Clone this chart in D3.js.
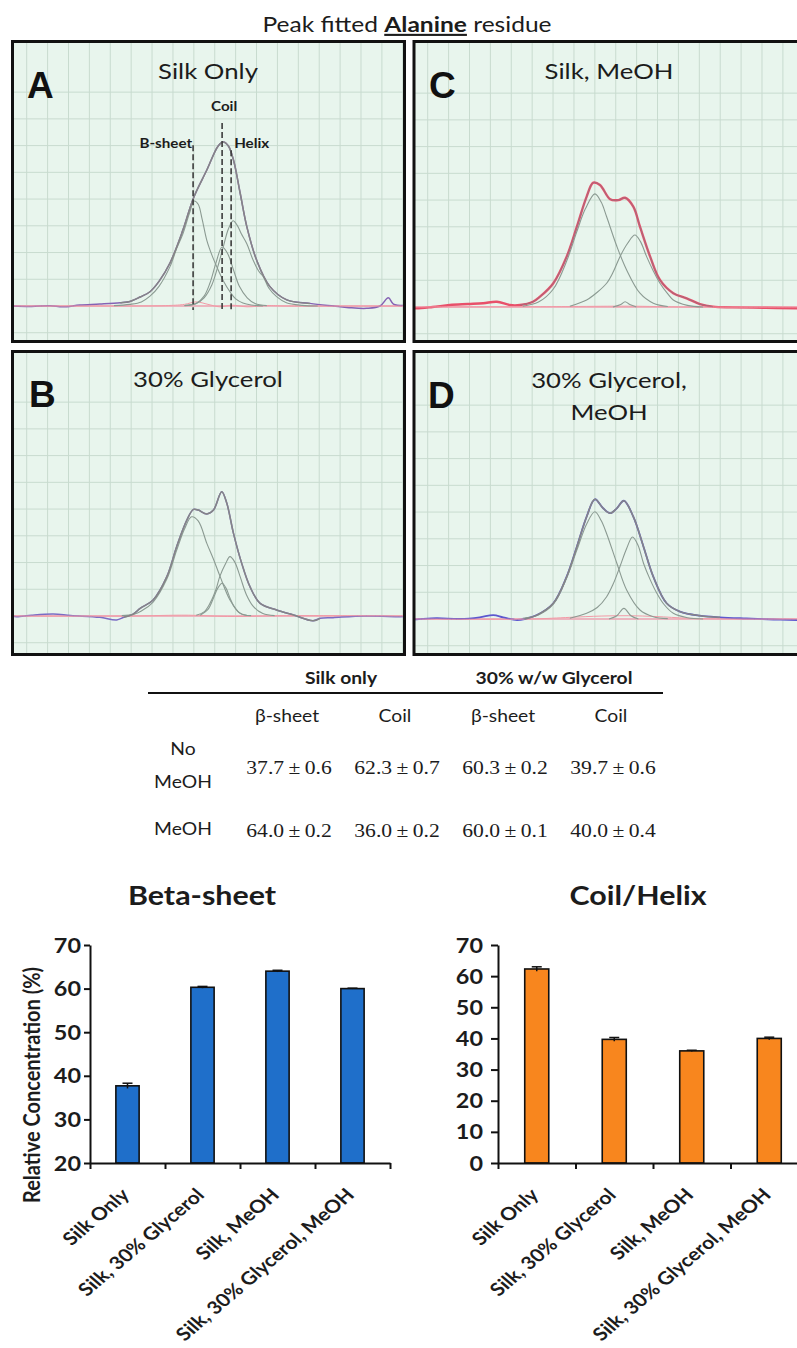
<!DOCTYPE html>
<html><head><meta charset="utf-8">
<script src="https://cdn.jsdelivr.net/npm/d3@7"></script>
<style>body{margin:0;background:#fff}svg{display:block}</style>
</head><body>
<svg id="c" width="797" height="1348"></svg>
<script>
// ---------------- DATA ----------------
// Spectra: [position (a.u., 0-100 across panel), intensity (a.u., A peak = 100)]
const totalA = [[0,0],[5,-0.3],[9.7,0.2],[13,-0.5],[17.3,0.6],[22.4,1.2],[27.6,2.0],[30.1,2.8],[32.7,5.5],[35.2,8.7],[37.5,15],[40.3,26.2],[43.6,46.3],[46.3,65.9],[49.7,82.9],[52.6,97.6],[53.9,100],[55.2,97.6],[56.5,89],[58.2,68.9],[59.9,48.4],[62.4,28],[65.8,11.8],[70.1,3.7],[76,1.6],[82,0],[86,-1],[90.5,-1.4],[93.9,0],[96,5],[97.3,1.2],[100,0.3]];
const betaA = [[26,0.2],[30,1],[33,2.5],[35.2,6],[37.5,12],[40.3,24],[42,35],[43.6,44],[45.2,56],[46.5,64],[47.5,62],[48.5,53],[49.7,40],[51,31],[52.6,22],[54,15],[55.6,8.7],[57,4.5],[58.9,1.8],[61,0.6],[64,0.1]];
const coilA = [[44,0.2],[47,1.5],[49,6],[50.5,14],[52,26],[53.6,36],[55,32],[56.5,22],[58,12],[60,5],[62,1.5],[65,0.2]];
const helixA = [[44,0.3],[47,1.6],[49,5],[51,13],[52.5,24],[54,37],[55.2,47],[56.4,52],[57.5,49],[58.5,44],[59.9,38],[61.5,28],[63,21],[64.1,17.9],[65.5,11],[67.5,5.7],[70,2],[74,0.4],[78,0]];
const residA = [[0,0],[20,0],[40,0.3],[44,1],[47,2.5],[50,1],[53,-0.5],[56,0.5],[60,-0.5],[65,0.3],[70,0],[100,0]];

const totalB = [[0,0],[1.2,-0.4],[5,0.5],[10.5,1.2],[15,0.3],[22.4,-0.8],[26.7,-2.4],[28.5,-0.8],[30.9,1.2],[32.7,4.7],[36,9.8],[39.5,24],[42,42.3],[44.6,58.5],[46.3,65],[47.5,64.6],[49.7,62.2],[51.4,64.6],[53.5,75.8],[54.8,68.7],[56.5,50.4],[58.6,32.1],[60.7,17.9],[63.3,7.7],[67.5,3.7],[71.8,0.6],[76.8,-2.9],[78.6,-1.4],[81.9,-1],[90,0],[99,-0.4],[100,-0.3]];
const betaB = [[28,0.2],[31,1],[33,3],[36,8.5],[39.5,22.5],[42,40],[44,53],[45.8,60.5],[47.5,58],[49.7,44.3],[51.5,34],[53.1,24],[55.6,9.8],[58.2,1.6],[61,0.2]];
const coilB = [[48,0.5],[50,4],[51.4,11],[52.5,17],[53.6,20],[54.6,17],[55.6,11],[56.6,6],[58,2],[60,0.3]];
const helixB = [[47,0.5],[49,2.5],[50.5,7.7],[52,16],[53,24],[54.5,32],[55.6,36.2],[56.8,33],[58.2,24],[59.8,13],[61.6,5.7],[64,1.5],[67,0.2]];
const residB = [[0,0],[30,0],[45,0.5],[55,-0.3],[70,0.2],[100,0]];

const totalC = [[0,-0.5],[0.9,-0.8],[5,0],[9.4,1.2],[14,1.8],[17.9,2.3],[21.4,3.2],[24.7,1.2],[27.3,1.2],[30.6,3.2],[32.4,6.3],[35.8,14.5],[39.2,30.7],[41.8,49],[44.3,67.3],[46,75.8],[47.7,74.4],[50.3,65.7],[52.4,65.2],[54.1,66.6],[56.2,61.2],[57.9,49],[60.5,30.7],[63,16.5],[66.4,8.4],[69.8,5.3],[73.2,1.8],[76.5,0.2],[81.6,-0.2],[90,-0.5],[97.9,-0.8],[100,-0.8]];
const betaC = [[28,0.5],[32,3],[35.8,11],[39.2,28],[41.8,46],[44,60],[46.4,69],[48,64],[49.4,55],[52,37],[54.5,22.6],[57.9,8.4],[61.3,2.3],[65,0.3]];
const coilC = [[51,0],[53,1.5],[54.1,3.2],[55.3,1.5],[57,0]];
const helixC = [[40,0.5],[44.3,4.3],[47,9],[49.4,14.5],[51,21],[52.8,30.7],[54.8,39],[56.6,43.9],[58,40],[59.6,30.7],[61.3,22],[63,14.5],[65,8],[66.4,4.3],[70,1],[74,0]];
const residC = [[0,0],[40,0.3],[55,0.5],[70,0],[100,0]];

const totalD = [[0,-0.2],[0.9,-0.2],[6,0.5],[12,0],[17,1],[20.5,2.4],[23,1],[26.5,-0.6],[28.5,0],[31.6,2.4],[35.8,9.6],[39.2,25.8],[41.8,44.1],[44.3,62.4],[46.4,73],[48.5,67.5],[50.3,64.5],[52,67.5],[53.8,72.1],[56.2,62.4],[58.8,44.1],[61.3,25.8],[64.7,9.6],[68.1,4.5],[73.2,2],[78.3,1],[85,0.3],[92,-0.3],[97.9,-0.6],[100,-0.6]];
const betaD = [[28,0.5],[32,2.5],[35.8,9],[39.2,25],[41.8,42],[44.3,58],[46.4,65.4],[48,60],[49.4,52],[52,34],[54.5,17.7],[57.9,5.5],[61.3,1.4],[65,0.2]];
const coilD = [[50,0],[52,2],[53.8,6.5],[55.6,2],[57.5,0]];
const helixD = [[40,0.5],[44.3,3.5],[47,7],[49.4,13.6],[51,21],[52.8,32],[54.5,43],[56,50],[57.4,45],[58.8,34],[60.5,24],[62.2,15.7],[64,9],[66.4,3.5],[70,0.8],[74,0]];
const residD = [[0,0],[30,0],[40,1],[48,1.8],[55,2],[62,1.5],[70,0.5],[80,0],[100,0]];

// Peak assignment markers for panel A: [label, position, top]
const markerLabels = ["B-sheet","Coil","Helix"];
const markerPos = [46.2, 53.6, 55.9];
const markerTop = [98, 111.6, 95];

const panelLetters = ["A","B","C","D"];
const panelTitles = [["Silk Only"],["30% Glycerol"],["Silk, MeOH"],["30% Glycerol,","MeOH"]];

// Table
const tableGroups = ["Silk only","30% w/w Glycerol"];
const tableCols = ["β-sheet","Coil","β-sheet","Coil"];
const tableRows = [["No","MeOH"],["MeOH"]];
const tableMeans = [[37.7,62.3,60.3,39.7],[64.0,36.0,60.0,40.0]];
const tableSD = [[0.6,0.7,0.2,0.6],[0.2,0.2,0.1,0.4]];

// Bar charts
const categories = ["Silk Only","Silk, 30% Glycerol","Silk, MeOH","Silk, 30% Glycerol, MeOH"];
const betaValues = [37.7,60.3,64.0,60.0];
const betaErrors = [0.6,0.2,0.2,0.1];
const coilValues = [62.3,39.7,36.0,40.0];
const coilErrors = [0.7,0.6,0.2,0.4];
const betaTicks = [20,30,40,50,60,70];
const coilTicks = [0,10,20,30,40,50,60,70];

// ---------------- DRAWING ----------------
const SX = 1.17;
const INK = "#1c1c1c";
const svg = d3.select("#c");

function stext(parent, x, y, str, o = {}) {
  const tr = `translate(${x},${y}) scale(${o.sx ?? SX},1)` + (o.rotate ? ` rotate(${o.rotate})` : "");
  return parent.append("g").attr("transform", tr).append("text")
    .attr("text-anchor", o.anchor || "middle")
    .style("font-family", o.family || "Lato")
    .style("font-size", (o.size || 16) + "px")
    .style("font-weight", o.weight || 400)
    .attr("fill", o.fill || INK)
    .text(str);
}

// Title
{
  const t = svg.append("g").attr("transform", `translate(407,32) scale(${SX},1)`).append("text")
    .attr("text-anchor", "middle").style("font-family", "Lato").style("font-size", "21px").attr("fill", INK);
  t.append("tspan").text("Peak fitted ");
  t.append("tspan").style("font-weight", 700).style("text-decoration", "underline").text("Alanine");
  t.append("tspan").text(" residue");
}

// Panels
const panelLayout = [
  {rect:[12.5,41.5,392,300], x0:12, base:306, letter:[27,98], titleX:208, titleY:[79], exp:"#8462b4", expW:1.5},
  {rect:[12.5,351.5,392,303], x0:12, base:616, letter:[29,407], titleX:208, titleY:[387], exp:"#7a6cc4", expW:1.5},
  {rect:[414,41.5,400,300], x0:413, base:307, letter:[429,98], titleX:609, titleY:[79], exp:"#e8506a", expW:2.4},
  {rect:[414,351.5,400,303], x0:413, base:619, letter:[428,408], titleX:609, titleY:[388,420], exp:"#5d58cf", expW:1.8}
];
const totals = [totalA,totalB,totalC,totalD];
const betas = [betaA,betaB,betaC,betaD];
const coils = [coilA,coilB,coilC,coilD];
const helices = [helixA,helixB,helixC,helixD];
const resids = [residA,residB,residC,residD];

panelLayout.forEach((p, i) => {
  const [rx, ry, rw, rh] = p.rect;
  const xs = d3.scaleLinear().domain([0,100]).range([p.x0, p.x0 + 392]);
  const ys = d3.scaleLinear().domain([0,100]).range([p.base, p.base - 164]);
  const cid = "clip" + i;
  svg.append("clipPath").attr("id", cid).append("rect").attr("x", rx).attr("y", ry).attr("width", rw).attr("height", rh);
  const g = svg.append("g").attr("clip-path", `url(#${cid})`);
  g.append("rect").attr("x", rx).attr("y", ry).attr("width", rw).attr("height", rh).attr("fill", "#e8f5ed");
  // grid
  const vgrid = d3.range(3.75, 102, 5.33);
  g.selectAll(null).data(vgrid).join("line")
    .attr("x1", d => xs(d)).attr("x2", d => xs(d)).attr("y1", ry).attr("y2", ry + rh)
    .attr("stroke", "#c8dbcf").attr("stroke-width", 1);
  const hgrid = d3.range(-2, 9).map(k => k * 16.3);
  g.selectAll(null).data(hgrid).join("line")
    .attr("y1", d => ys(d)).attr("y2", d => ys(d)).attr("x1", rx).attr("x2", rx + rw)
    .attr("stroke", "#c8dbcf").attr("stroke-width", 1);

  const line = d3.line().x(d => xs(d[0])).y(d => ys(d[1])).curve(d3.curveCatmullRom.alpha(0.5));
  // baseline
  g.append("path").datum([[0,0],[100,0]]).attr("d", line).attr("fill","none").attr("stroke","#f2a6b4").attr("stroke-width",1.6);
  // experimental trace
  g.append("path").datum(totals[i]).attr("d", line).attr("fill","none").attr("stroke",p.exp).attr("stroke-width",p.expW);
  // residual
  g.append("path").datum(resids[i]).attr("d", line).attr("fill","none").attr("stroke","#f29aa6").attr("stroke-width",1);
  // components
  [betas[i], coils[i], helices[i]].forEach(c => {
    g.append("path").datum(c).attr("d", line).attr("fill","none").attr("stroke","#8b9a92").attr("stroke-width",1.1);
  });
  // fit envelope
  const fit = totals[i].filter(d => d[0] >= 27 && d[0] <= 80);
  g.append("path").datum(fit).attr("d", line).attr("fill","none").attr("stroke", i === 2 ? "#9a7080" : "#858585").attr("stroke-width", i === 2 ? 0.9 : 1.5);

  if (i === 0) {
    markerPos.forEach((m, k) => {
      g.append("line").attr("x1", xs(m)).attr("x2", xs(m)).attr("y1", ys(markerTop[k])).attr("y2", ys(-2.5))
        .attr("stroke", "#3c3c3c").attr("stroke-width", 1.6).attr("stroke-dasharray", "6,3");
    });
    stext(svg, xs(markerPos[0]) - 1, ys(97) + 1, markerLabels[0], {size:13, weight:700, anchor:"end"});
    stext(svg, xs(markerPos[1]) + 2, ys(119), markerLabels[1], {size:13, weight:700});
    stext(svg, xs(markerPos[2]) + 3, ys(97) + 1, markerLabels[2], {size:13, weight:700, anchor:"start"});
  }
  // border
  svg.append("rect").attr("x", rx).attr("y", ry).attr("width", rw).attr("height", rh)
    .attr("fill", "none").attr("stroke", "#111").attr("stroke-width", 3);
  // letter and title
  stext(svg, p.letter[0], p.letter[1], panelLetters[i], {size:37, weight:700, family:"Liberation Sans", anchor:"start", sx:1, fill:"#111"});
  panelTitles[i].forEach((t, k) => stext(svg, p.titleX, p.titleY[k], t, {size:22}));
});

// ---------------- TABLE ----------------
{
  const cx = d3.scalePoint().domain(d3.range(4)).range([287, 611]);
  stext(svg, (cx(0) + cx(1)) / 2, 684, tableGroups[0], {size:16.5, weight:700});
  stext(svg, (cx(2) + cx(3)) / 2 - 3, 684, tableGroups[1], {size:16.5, weight:700});
  svg.append("line").attr("x1", 148).attr("x2", 663).attr("y1", 693).attr("y2", 693).attr("stroke", "#111").attr("stroke-width", 2);
  tableCols.forEach((c, j) => stext(svg, cx(j), 722, c, {size:16.5}));
  const rowBase = [772, 835];
  stext(svg, 183, 755, tableRows[0][0], {size:16.5});
  stext(svg, 183, 788, tableRows[0][1], {size:16.5});
  stext(svg, 183, 835, tableRows[1][0], {size:16.5});
  tableMeans.forEach((row, r) => row.forEach((v, j) => {
    stext(svg, cx(j) + 2, rowBase[r] + 2, `${v.toFixed(1)}\u2009±\u20090.${Math.round(tableSD[r][j]*10)}`, {size:18.5, family:"Liberation Serif"});
  }));
}

// ---------------- BAR CHARTS ----------------
function barChart(o) {
  const y = d3.scaleLinear().domain(o.domain).range([1163, 945]);
  const x = d3.scaleBand().domain(categories).range(o.xRange).paddingInner(0.69).paddingOuter(0.345);
  const g = svg.append("g");
  // title
  stext(svg, o.titleX, 905, o.title, {size:26, weight:700});
  // bars
  g.selectAll("rect.bar").data(o.values).join("rect").attr("class", "bar")
    .attr("x", (d, i) => x(categories[i])).attr("width", x.bandwidth())
    .attr("y", d => y(d)).attr("height", d => y(o.domain[0]) - y(d))
    .attr("fill", o.fill).attr("stroke", "#111").attr("stroke-width", 1.6);
  // error bars
  o.values.forEach((v, i) => {
    const cx = x(categories[i]) + x.bandwidth() / 2;
    const e = o.errors[i];
    g.append("line").attr("x1", cx).attr("x2", cx).attr("y1", y(v - e)).attr("y2", y(v + e)).attr("stroke", "#111").attr("stroke-width", 1.5);
    g.append("line").attr("x1", cx - 5).attr("x2", cx + 5).attr("y1", y(v + e)).attr("y2", y(v + e)).attr("stroke", "#111").attr("stroke-width", 1.5);
  });
  // y axis
  const ya = svg.append("g").attr("transform", `translate(${o.xRange[0]},0)`)
    .call(d3.axisLeft(y).tickValues(o.ticks).tickSize(o.tick).tickSizeOuter(0).tickFormat(d3.format("d")));
  ya.select(".domain").attr("stroke", "#111").attr("stroke-width", 2);
  ya.selectAll(".tick line").attr("stroke", "#111").attr("stroke-width", 2);
  ya.selectAll(".tick text").attr("x", 0).attr("dy", null)
    .attr("transform", `translate(${-o.tick - o.pad},7) scale(${SX},1)`)
    .style("font-family", "Lato").style("font-size", "20px").style("font-weight", 700).attr("fill", INK);
  // x axis (ticks at category boundaries)
  const xb = d3.scaleLinear().domain([0, categories.length]).range(o.xRange);
  const xa = svg.append("g").attr("transform", `translate(0,${y(o.domain[0])})`)
    .call(d3.axisBottom(xb).tickValues(d3.range(categories.length + 1)).tickSize(6).tickSizeOuter(0).tickFormat(""));
  xa.select(".domain").attr("stroke", "#111").attr("stroke-width", 2);
  xa.selectAll(".tick line").attr("stroke", "#111").attr("stroke-width", 2);
  // category labels
  categories.forEach(c => {
    stext(svg, x(c) + x.bandwidth() / 2 + 3, 1196, c, {size:18, weight:700, anchor:"end", rotate:-45});
  });
  if (o.ylabel) {
    svg.append("g").attr("transform", `translate(${o.ylabelX},1085) scale(${SX},1) rotate(-90)`).append("text")
      .attr("text-anchor", "middle").style("font-family", "Lato").style("font-size", "20px").style("font-weight", 700)
      .attr("fill", INK).text(o.ylabel);
  }
}

barChart({values: betaValues, errors: betaErrors, ticks: betaTicks, domain: [20, 70], xRange: [90, 390],
  fill: "#1f6fca", title: "Beta-sheet", titleX: 202, ylabel: "Relative Concentration (%)", ylabelX: 40, tick: 6, pad: 3});
barChart({values: coilValues, errors: coilErrors, ticks: coilTicks, domain: [0, 70], xRange: [498, 808],
  fill: "#f8861e", title: "Coil/Helix", titleX: 638, tick: 7, pad: 8});
</script>
</body></html>
